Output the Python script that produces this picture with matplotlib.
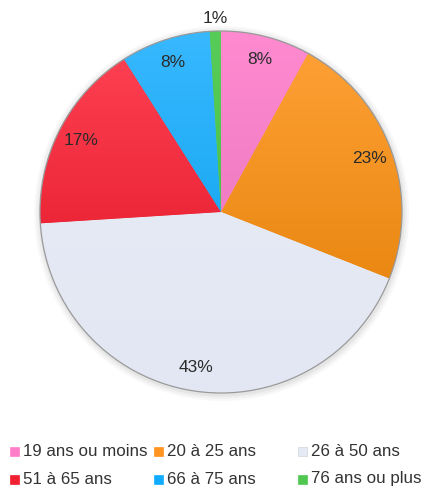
import numpy as np
import matplotlib
matplotlib.use("Agg")
import matplotlib.pyplot as plt
from matplotlib.colors import LinearSegmentedColormap
from matplotlib.patches import Rectangle, Circle

plt.rcParams['font.family'] = ['Liberation Sans', 'DejaVu Sans']

# age groups and share of respondents (%)
categories = ["19 ans ou moins", "20 à 25 ans", "26 à 50 ans",
              "51 à 65 ans", "66 à 75 ans", "76 ans ou plus"]
shares = [8, 23, 43, 17, 8, 1]
top_colors = ["#ff8ad0", "#ffa238", "#e8ecf6", "#ff4456", "#38b8ff", "#58cc58"]
bottom_colors = ["#e070b8", "#e07c00", "#e2e7f3", "#dc0c1c", "#009ee8", "#40b840"]
base_colors = ["#ff7ec8", "#ff9420", "#e6eaf5", "#f02030", "#10acff", "#50c850"]

W, H = 427, 493
fig = plt.figure(figsize=(W / 100, H / 100), dpi=100)
fig.patch.set_facecolor("white")

cx, cy, R = 221, 212, 181   # pie centre and radius in pixels
half = 200
ax = fig.add_axes([(cx - half) / W, (H - cy - half) / H, 2 * half / W, 2 * half / H])
lim = half / R
ax.set_xlim(-lim, lim)
ax.set_ylim(-lim, lim)
ax.set_aspect("equal")
ax.axis("off")

# soft shadow under the pie
for i, a in enumerate([0.05, 0.07, 0.10]):
    ax.add_patch(Circle((0.004, -0.008), 1 + 0.012 * (3 - i), color="#888888",
                        alpha=a, lw=0, zorder=0))

wedges, _ = ax.pie(shares, colors=base_colors, startangle=90, counterclock=False,
                   radius=1, wedgeprops=dict(linewidth=0), center=(0, 0))

# vertical gradient inside each slice
grad = np.linspace(0, 1, 256).reshape(-1, 1)
for w, c0, c1 in zip(wedges, top_colors, bottom_colors):
    cmap = LinearSegmentedColormap.from_list("g", [c0, c1])
    im = ax.imshow(grad, cmap=cmap, extent=[-1, 1, -1, 1], origin="upper",
                   aspect="auto", zorder=2, interpolation="bilinear")
    im.set_clip_path(w)

ax.add_patch(Circle((0, 0), 1, fill=False, ec="#9a9a9a", lw=0.9, zorder=3))
ax.set_xlim(-lim, lim)
ax.set_ylim(-lim, lim)

# percentage labels
for w, v in zip(wedges, shares):
    mid = np.deg2rad((w.theta1 + w.theta2) / 2)
    d = 1.07 if v < 3 else 0.87
    ax.text(d * np.cos(mid), d * np.sin(mid), f"{v}%", ha="center", va="center",
            fontsize=12.5, color="#2b2b2b", zorder=4)

# legend, two rows of three
col_x = [10, 154, 298]
row_y = [451, 479]
for i, (lab, col) in enumerate(zip(categories, base_colors)):
    r, c = divmod(i, 3)
    x, y = col_x[c], row_y[r]
    fig.patches.append(Rectangle(((x) / W, (H - y - 4.5) / H), 9 / W, 9 / H,
                                 transform=fig.transFigure, fc=col,
                                 ec="#cfd3dc" if col == "#e6eaf5" else col, lw=0.5))
    fig.text((x + 13) / W, (H - y) / H, lab, ha="left", va="center",
             fontsize=12.2, color="#333333")

fig.savefig("out.png", dpi=100, facecolor="white")
